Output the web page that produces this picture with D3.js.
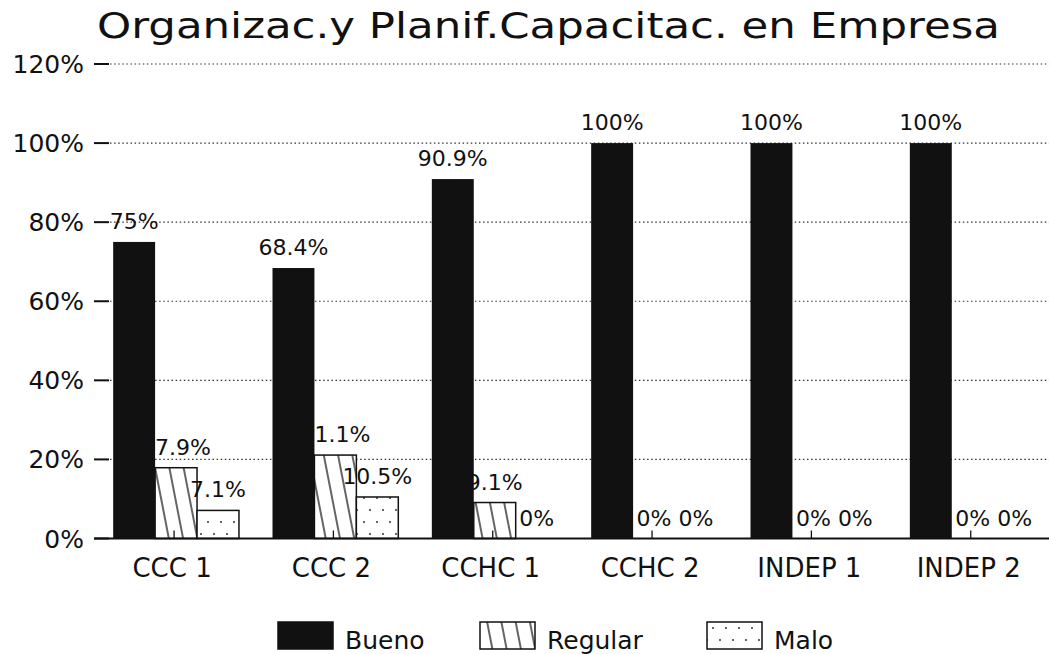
<!DOCTYPE html>
<html>
<head>
<meta charset="utf-8">
<script src="https://cdn.jsdelivr.net/npm/d3@7"></script>
<style>
  body { margin: 0; background: #fff; }
  svg { display: block; }
  text { font-family: "DejaVu Sans", sans-serif; fill: #111; }
</style>
</head>
<body>
<svg></svg>
<script>
// chart data
var categories = ["CCC 1", "CCC 2", "CCHC 1", "CCHC 2", "INDEP 1", "INDEP 2"]
var series = ["Bueno", "Regular", "Malo"]
var bueno = [75, 68.4, 90.9, 100, 100, 100]
var regular = [17.9, 21.1, 9.1, 0, 0, 0]
var malo = [7.1, 10.5, 0, 0, 0, 0]
var valueLabels = [
    ["75%", "68.4%", "90.9%", "100%", "100%", "100%"],
    ["17.9%", "21.1%", "9.1%", "0%", "0%", "0%"],
    ["7.1%", "10.5%", "0%", "0%", "0%", "0%"]
]
var yTicks = [0, 20, 40, 60, 80, 100, 120]
var yTickLabels = ["0%", "20%", "40%", "60%", "80%", "100%", "120%"]
var title = "Organizac.y Planif.Capacitac. en Empresa"

var dimensions = {
    width: 1049,
    height: 654,
    margin: { top: 64, bottom: 115, left: 96, right: -3 }
}

var svg = d3.select("svg")
            .attr("width", dimensions.width)
            .attr("height", dimensions.height)

var defs = svg.append("defs")

// diagonal hatch for Regular
var hatch = defs.append("pattern")
                .attr("id", "hatch")
                .attr("patternUnits", "userSpaceOnUse")
                .attr("width", 14)
                .attr("height", 14)
                .attr("patternTransform", "rotate(-11)")
hatch.append("rect").attr("width", 14).attr("height", 14).attr("fill", "white")
hatch.append("line")
     .attr("x1", 7).attr("y1", 0).attr("x2", 7).attr("y2", 14)
     .attr("stroke", "#111").attr("stroke-width", 1.3)

// dots for Malo
var dots = defs.append("pattern")
               .attr("id", "dots")
               .attr("patternUnits", "userSpaceOnUse")
               .attr("width", 26)
               .attr("height", 24)
dots.append("rect").attr("width", 26).attr("height", 24).attr("fill", "white")
dots.append("circle").attr("cx", 6).attr("cy", 6).attr("r", 1).attr("fill", "#333")
dots.append("circle").attr("cx", 19).attr("cy", 6).attr("r", 1).attr("fill", "#333")
dots.append("circle").attr("cx", 0).attr("cy", 18).attr("r", 1).attr("fill", "#333")
dots.append("circle").attr("cx", 13).attr("cy", 18).attr("r", 1).attr("fill", "#333")
dots.append("circle").attr("cx", 26).attr("cy", 18).attr("r", 1).attr("fill", "#333")

var fills = ["#111", "url(#hatch)", "url(#dots)"]
var seriesData = [bueno, regular, malo]

var plotBottom = dimensions.height - dimensions.margin.bottom - 0.5
var plotRight = dimensions.width - dimensions.margin.right

var xScale = d3.scaleBand()
               .domain(categories)
               .range([dimensions.margin.left + 0.4, plotRight + 0.4])

var xSub = d3.scaleBand()
             .domain(series)
             .range([0, xScale.bandwidth()])
             .paddingOuter(0.4)

var yScale = d3.scaleLinear()
               .domain([0, 120])
               .range([plotBottom, dimensions.margin.top])

// title
svg.append("text")
   .attr("x", 97)
   .attr("y", 38)
   .attr("font-size", 36)
   .attr("textLength", 903)
   .attr("lengthAdjust", "spacingAndGlyphs")
   .text(title)

// dotted gridlines
svg.append("g")
   .selectAll("line")
   .data(yTicks.filter(d => d > 0))
   .enter()
   .append("line")
   .attr("x1", 110)
   .attr("x2", dimensions.width)
   .attr("y1", d => yScale(d))
   .attr("y2", d => yScale(d))
   .attr("stroke", "#333")
   .attr("stroke-width", 1.2)
   .attr("stroke-dasharray", "1.5,2.6")

// y axis ticks and labels
var yAxis = svg.append("g")
yAxis.selectAll("line")
     .data(yTicks)
     .enter()
     .append("line")
     .attr("x1", 94)
     .attr("x2", 109)
     .attr("y1", d => yScale(d))
     .attr("y2", d => yScale(d))
     .attr("stroke", "#111")
     .attr("stroke-width", 2)
yAxis.selectAll("text")
     .data(yTicks)
     .enter()
     .append("text")
     .attr("x", 84)
     .attr("y", d => yScale(d) + 9)
     .attr("text-anchor", "end")
     .attr("font-size", 25)
     .text((d, i) => yTickLabels[i])

// groups per series
var groups = series.map((s, si) => categories.map((c, ci) => ({
    cat: c, series: s, si: si, value: seriesData[si][ci], label: valueLabels[si][ci]
})))

// Regular and Malo bars first
var lightBars = svg.append("g")
lightBars.selectAll("rect")
         .data(groups[1].concat(groups[2]).filter(d => d.value > 0))
         .enter()
         .append("rect")
         .attr("x", d => xScale(d.cat) + xSub(d.series))
         .attr("y", d => yScale(d.value))
         .attr("width", xSub.bandwidth())
         .attr("height", d => plotBottom - yScale(d.value))
         .attr("fill", d => fills[d.si])
         .attr("stroke", "#111")
         .attr("stroke-width", 1.5)

// value labels (under the black bars)
svg.append("g")
   .selectAll("text")
   .data(groups[0].concat(groups[1], groups[2]))
   .enter()
   .append("text")
   .attr("x", d => xScale(d.cat) + xSub(d.series) + xSub.bandwidth() / 2)
   .attr("y", d => yScale(d.value) - 13)
   .attr("text-anchor", "middle")
   .attr("font-size", 22)
   .text(d => d.label)

// Bueno bars
svg.append("g")
   .selectAll("rect")
   .data(groups[0])
   .enter()
   .append("rect")
   .attr("x", d => xScale(d.cat) + xSub(d.series))
   .attr("y", d => yScale(d.value))
   .attr("width", xSub.bandwidth())
   .attr("height", d => plotBottom - yScale(d.value))
   .attr("fill", fills[0])

// x axis baseline, ticks and labels
svg.append("line")
   .attr("x1", 94)
   .attr("x2", dimensions.width)
   .attr("y1", plotBottom)
   .attr("y2", plotBottom)
   .attr("stroke", "#111")
   .attr("stroke-width", 2)

var xAxis = svg.append("g")
xAxis.selectAll("line")
     .data(categories)
     .enter()
     .append("line")
     .attr("x1", d => xScale(d) + xScale.bandwidth() / 2 - 2)
     .attr("x2", d => xScale(d) + xScale.bandwidth() / 2 - 2)
     .attr("y1", plotBottom)
     .attr("y2", plotBottom - 8)
     .attr("stroke", "#111")
     .attr("stroke-width", 1.3)
xAxis.selectAll("text")
     .data(categories)
     .enter()
     .append("text")
     .attr("x", d => xScale(d) + xScale.bandwidth() / 2 - 4)
     .attr("y", 577)
     .attr("text-anchor", "middle")
     .attr("font-size", 26)
     .text(d => d)

// legend
var legendX = [278, 480, 707]
var legend = svg.append("g")
                .selectAll("g")
                .data(series)
                .enter()
                .append("g")
                .attr("transform", (d, i) => "translate(" + legendX[i] + ",622)")
legend.append("rect")
      .attr("width", 55)
      .attr("height", 27)
      .attr("fill", (d, i) => fills[i])
      .attr("stroke", "#111")
      .attr("stroke-width", 1.5)
legend.append("text")
      .attr("x", 67)
      .attr("y", 27)
      .attr("font-size", 25)
      .text(d => d)
</script>
</body>
</html>
